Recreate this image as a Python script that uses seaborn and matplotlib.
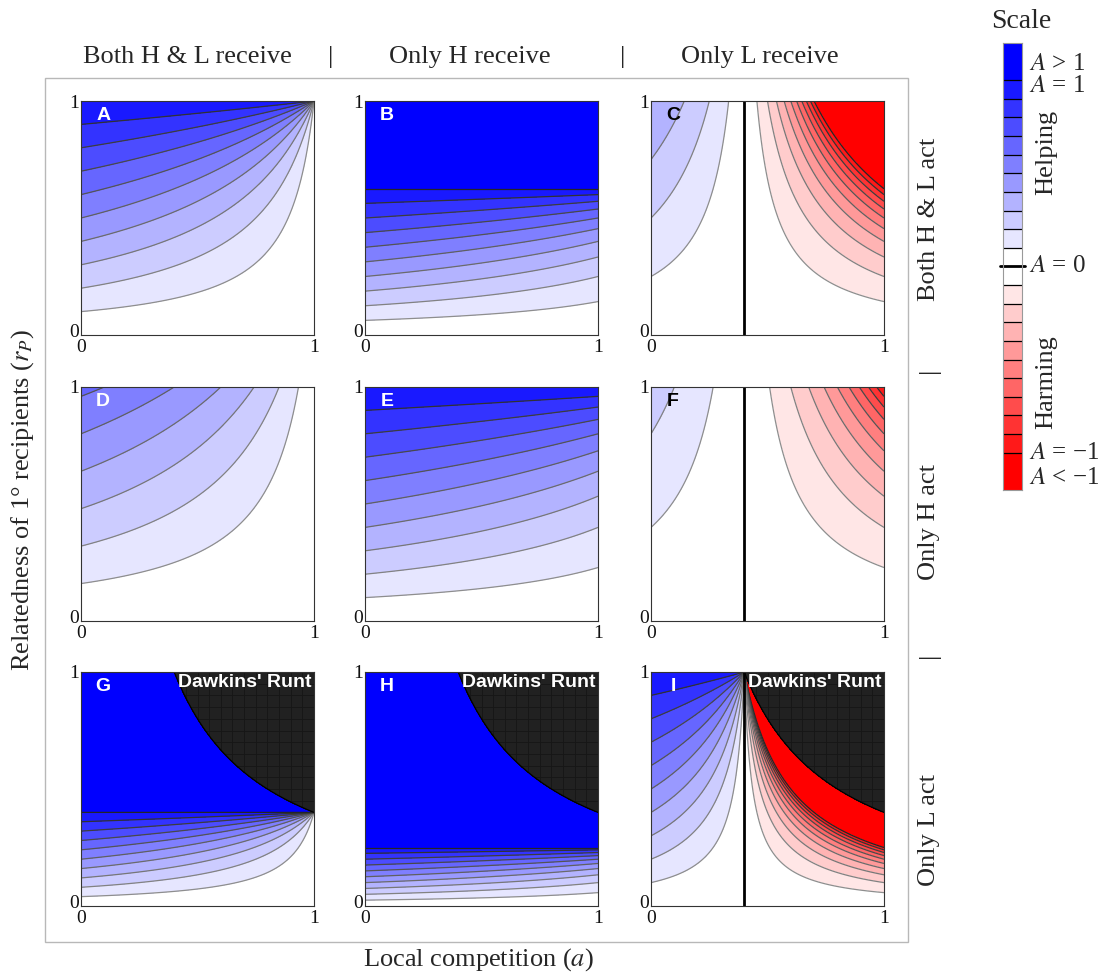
import numpy as np
import matplotlib
matplotlib.use("Agg")
import matplotlib.pyplot as plt
import matplotlib.transforms as mtransforms
from matplotlib.colors import ListedColormap
from matplotlib.patches import Rectangle, PathPatch
import seaborn as sns

# ---------------- data ----------------
col_titles = ["Both H & L receive", "Only H receive", "Only L receive"]
row_titles = ["Both H & L act", "Only H act", "Only L act"]
panel_letters = ["A", "B", "C", "D", "E", "F", "G", "H", "I"]
letter_colors = ["white", "white", "black",
                 "white", "white", "black",
                 "white", "white", "white"]
# model parameters: A = r (c - a) / (k - a r)
receiver_c = [1.0, 1.6, 0.4]   # per column (who receives)
actor_k = [1.0, 1.6, 0.4]      # per row (who acts)
band_edges = [-1.0, -0.9, -0.8, -0.7, -0.6, -0.5, -0.4, -0.3, -0.2, -0.1, 0.0,
              0.1, 0.2, 0.3, 0.4, 0.5, 0.6, 0.7, 0.8, 0.9, 1.0]
axis_ticks = [0, 1]
axis_tick_labels = ["0", "1"]
scale_labels = ["$A$ > 1", "$A$ = 1", "$A$ = 0", "$A$ = \u22121", "$A$ < \u22121"]
scale_label_rows = [1.15, 2.3, 12.0, 22.0, 23.35]
runt_label = "Dawkins' Runt"

# ---------------- style ----------------
sns.set_theme(style="white")
plt.rcParams["font.family"] = ["Liberation Serif", "DejaVu Serif"]
plt.rcParams["mathtext.fontset"] = "stix"

BIG = 50.0
blues = sns.blend_palette(["#ffffff", "#0000ff"], n_colors=11)
reds = sns.blend_palette(["#ffffff", "#ff0000"], n_colors=11)
band_colors = [reds[10 - j] for j in range(11)] + [blues[j] for j in range(11)]
levels = [-BIG] + band_edges + [BIG]
line_levels = [v for v in band_edges if v != 0.0]
line_colors = [str(0.6 - 0.45 * abs(v)) for v in line_levels]

W, H = 1099, 974
fig = plt.figure(figsize=(W / 100, H / 100), dpi=100)

def fx(px):
    return px / W

def fy(py):
    return 1 - py / H

col_left = [81, 365, 651]
row_top = [101, 387, 672]
pw, ph = 233, 234

a = np.linspace(0, 1, 701)
r = np.linspace(0.0005, 1, 701)
AA, RR = np.meshgrid(a, r)

for i in range(3):
    for j in range(3):
        c = receiver_c[j]
        k = actor_k[i]
        ax = fig.add_axes([fx(col_left[j]), fy(row_top[i] + ph), pw / W, ph / H])
        den = k - AA * RR
        with np.errstate(divide="ignore", invalid="ignore"):
            Z = RR * (c - AA) / den
        Z = np.nan_to_num(Z, nan=0.0, posinf=BIG * 0.9, neginf=-BIG * 0.9)
        Z = np.clip(Z, -BIG * 0.9, BIG * 0.9)
        runt = den < -1e-9
        Zm = np.ma.masked_where(runt, Z)
        ax.contourf(a, r, Zm, levels=levels, colors=band_colors)
        ax.contour(a, r, Zm, levels=line_levels, colors=line_colors, linewidths=0.9)
        if Zm.min() < 0 < Zm.max():
            ax.contour(a, r, Zm, levels=[0.0], colors="black", linewidths=2.0)
        if runt.any():
            cs = ax.contourf(a, r, den, levels=[den.min() - 1, 0], colors=["#212121"])
            patch = PathPatch(cs.get_paths()[0], transform=ax.transData,
                              facecolor="none", edgecolor="none")
            ax.add_patch(patch)
            grid = np.arange(0.05, 1.0, 0.05)
            vl = ax.vlines(grid, 0, 1, colors="#161616", linewidth=0.6)
            vl.set_clip_path(patch)
            hl = ax.hlines(grid, 0, 1, colors="#161616", linewidth=0.6)
            hl.set_clip_path(patch)
            ax.contour(a, r, den, levels=[0.0], colors="black", linewidths=0.9)
            ax.text(0.99, 0.955, runt_label, transform=ax.transAxes, ha="right",
                    va="center", color="white", fontsize=14, fontweight="bold",
                    family=["Liberation Sans", "DejaVu Sans"])
        ax.text(0.095, 0.94, panel_letters[3 * i + j], transform=ax.transAxes,
                ha="center", va="center", color=letter_colors[3 * i + j],
                fontsize=14, fontweight="bold", family=["Liberation Sans", "DejaVu Sans"])
        ax.set_xlim(0, 1)
        ax.set_ylim(0, 1)
        ax.set_xticks(axis_ticks)
        ax.set_xticklabels(axis_tick_labels)
        ax.set_yticks(axis_ticks)
        ax.set_yticklabels(axis_tick_labels)
        ax.tick_params(axis="x", length=0, pad=3.0, labelsize=14, colors="#111111")
        ax.tick_params(axis="y", length=0, pad=1.5, labelsize=14, colors="#111111")
        # nudge the lower y label up a little so it sits beside the x "0"
        ylab0 = ax.get_yticklabels()[0]
        ylab0.set_transform(ylab0.get_transform() +
                            mtransforms.ScaledTranslation(0, 3 / 72, fig.dpi_scale_trans))
        for s in ax.spines.values():
            s.set_visible(True)
            s.set_color("#333333")
            s.set_linewidth(0.8)

# outer frame
fig.add_artist(Rectangle((fx(45), fy(942)), (908 - 45) / W, (942 - 78) / H,
                         fill=False, edgecolor="#b8b8b8", linewidth=1.0,
                         transform=fig.transFigure))

# column headers
FS = 19
for x, t in zip([187, 331, 470, 623, 760],
                [col_titles[0], "|", col_titles[1], "|", col_titles[2]]):
    fig.text(fx(x), fy(57), t, ha="center", va="center", fontsize=FS)
# row headers
for y, t in zip([219, 370, 522, 655, 830],
                [row_titles[0], "|", row_titles[1], "|", row_titles[2]]):
    fig.text(fx(929), fy(y), t, ha="center", va="center", rotation=90, fontsize=FS)

fig.text(fx(23), fy(500), "Relatedness of 1° recipients ($r_P$)", ha="center",
         va="center", rotation=90, fontsize=FS)
fig.text(fx(478), fy(960), "Local competition ($a$)", ha="center", va="center",
         fontsize=FS)

# ---------------- scale ----------------
fig.text(fx(1021), fy(22), "Scale", ha="center", va="center", fontsize=FS + 1)
cax = fig.add_axes([fx(1003), fy(490), 19 / W, 447 / H])
scale_idx = [21, 21] + list(range(20, 10, -1)) + list(range(10, 0, -1)) + [0, 0]
sns.heatmap(np.array(scale_idx).reshape(-1, 1), cmap=ListedColormap(band_colors),
            vmin=-0.5, vmax=21.5, cbar=False, ax=cax, xticklabels=False,
            yticklabels=False)
sep = [y for y in range(2, 23) if y != 12]
cax.hlines(sep, 0, 1, colors="black", linewidth=0.9)
cax.plot([-0.15, 1.15], [12, 12], color="black", linewidth=2.0, clip_on=False)
for s in cax.spines.values():
    s.set_visible(True)
    s.set_color("#999999")
    s.set_linewidth(0.8)
for lab, yy in zip(scale_labels, scale_label_rows):
    cax.text(1.35, yy, lab, transform=cax.get_yaxis_transform(), ha="left",
             va="center", fontsize=FS - 1)
fig.text(fx(1046), fy(152), "Helping", ha="center", va="center", rotation=90,
         fontsize=FS)
fig.text(fx(1046), fy(382), "Harming", ha="center", va="center", rotation=90,
         fontsize=FS)

fig.savefig("out.png", dpi=100)
